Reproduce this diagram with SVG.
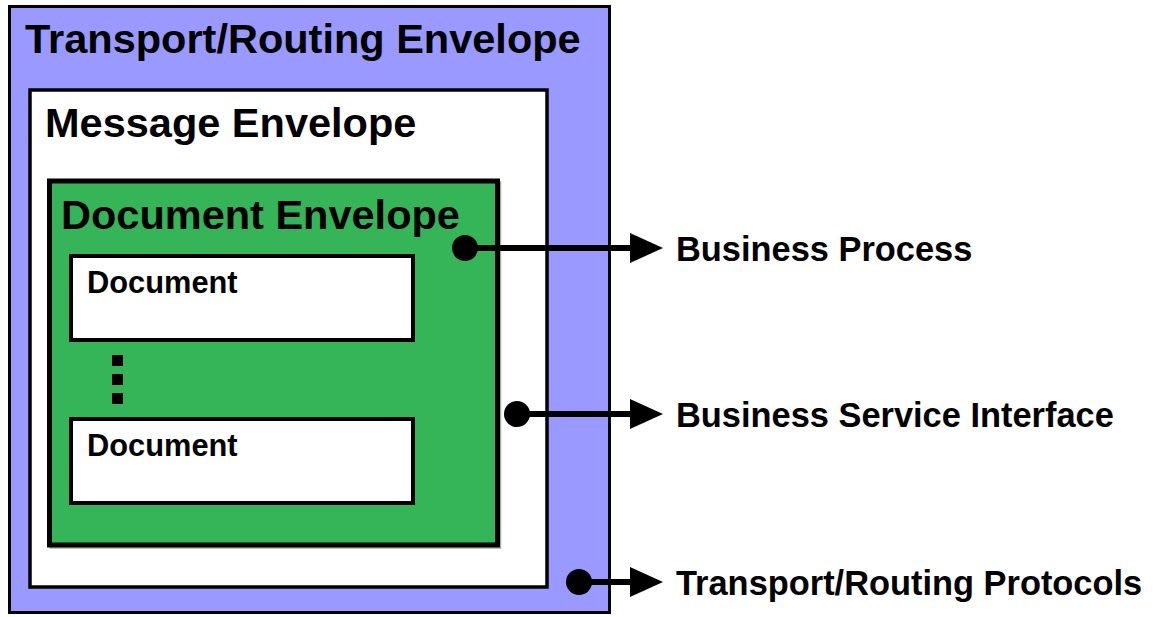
<svg xmlns="http://www.w3.org/2000/svg" width="1153" height="617" viewBox="0 0 1153 617">
  <style>
    text { font-family: "Liberation Sans", Arial, sans-serif; font-weight: bold; fill: #000; }
    .title { font-size: 41.5px; }
    .doc { font-size: 30.8px; }
    .label { font-size: 34.4px; }
    .box { stroke: #000; }
    .conn { stroke: #000; stroke-width: 6; fill: none; }
    .dot { fill: #000; }
    .head { fill: #000; }
  </style>

  <!-- Outer transport/routing layer -->
  <g id="transport-envelope">
    <rect class="box" x="9.5" y="6.5" width="600" height="606" fill="#9999ff" stroke-width="3"/>
    <text class="title" x="25" y="53">Transport/Routing Envelope</text>
  </g>

  <!-- Message layer -->
  <g id="message-envelope">
    <rect class="box" x="30" y="90" width="517" height="497" fill="#ffffff" stroke-width="3.5"/>
    <text class="title" x="45" y="137">Message Envelope</text>
  </g>

  <!-- Document layer, with a faint drop shadow to the lower right -->
  <g id="document-envelope">
    <rect x="50.5" y="182" width="450" height="366" fill="none" stroke="#aaa" stroke-width="1.5"/>
    <rect class="box" x="49.5" y="181" width="448" height="364" fill="#35b558" stroke-width="5"/>
    <text class="title" x="61" y="229">Document Envelope</text>
  </g>

  <g id="document-1">
    <rect class="box" x="71" y="256" width="342" height="84" fill="#ffffff" stroke-width="4"/>
    <text class="doc" x="87" y="293">Document</text>
  </g>

  <g id="ellipsis">
    <rect x="112" y="355" width="11" height="11" fill="#000"/>
    <rect x="112" y="374" width="11" height="11" fill="#000"/>
    <rect x="112" y="393" width="11" height="11" fill="#000"/>
  </g>

  <g id="document-2">
    <rect class="box" x="71" y="419" width="342" height="84" fill="#ffffff" stroke-width="4"/>
    <text class="doc" x="87" y="456">Document</text>
  </g>

  <!-- Connectors from each layer to its responsibility -->
  <g id="connectors">
    <line class="conn" x1="465" y1="248" x2="632" y2="248"/>
    <circle class="dot" cx="465" cy="248" r="13"/>
    <polygon class="head" points="630,233 663,248 630,263"/>

    <line class="conn" x1="517" y1="414" x2="632" y2="414"/>
    <circle class="dot" cx="517" cy="414" r="13"/>
    <polygon class="head" points="630,399 663,414 630,429"/>

    <line class="conn" x1="579" y1="582" x2="632" y2="582"/>
    <circle class="dot" cx="579" cy="582" r="13"/>
    <polygon class="head" points="630,567 663,582 630,597"/>
  </g>

  <g id="business-process">
    <text class="label" x="676" y="261">Business Process</text>
  </g>
  <g id="business-service-interface">
    <text class="label" x="676" y="427">Business Service Interface</text>
  </g>
  <g id="transport-routing-protocols">
    <text class="label" x="676" y="595">Transport/Routing Protocols</text>
  </g>
</svg>
